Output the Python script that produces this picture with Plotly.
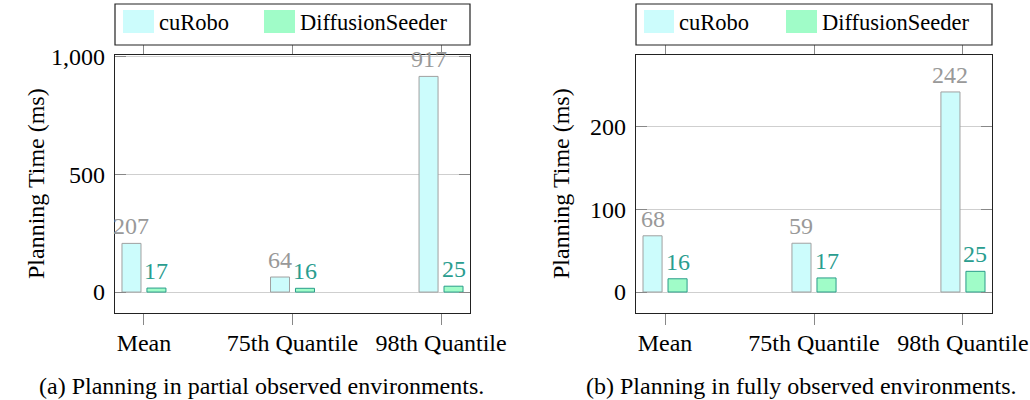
import plotly.graph_objects as go

# ---- data ----
categories = ["Mean", "75th Quantile", "98th Quantile"]
series_names = ["cuRobo", "DiffusionSeeder"]
partial_curobo = [207, 64, 917]
partial_diffusion = [17, 16, 25]
full_curobo = [68, 59, 242]
full_diffusion = [16, 17, 25]
ytick_vals_a = [0, 500, 1000]
ytick_text_a = ["0", "500", "1,000"]
ytick_vals_b = [0, 100, 200]
ytick_text_b = ["0", "100", "200"]
captions = ["(a) Planning in partial observed environments.",
            "(b) Planning in fully observed environments."]
y_title = "Planning Time (ms)"

# ---- style ----
W, H = 1030, 400
FONT = "Liberation Serif"
FS = 24
FS_NUM = 24
FS_LEG = 22.5
FS_CAP = 24
C_FILL = ["#ccfcfc", "#a0fcc8"]
C_LINE = ["#a0a0a0", "#2a9d8a"]
C_TEXT = ["#999999", "#2a9d8f"]
BAR_W = 0.128
BAR_C = [-0.084, 0.084]

def px(x):
    return x / W

def py(y):
    return 1 - y / H

panels = [
    dict(x0=115, x1=470, data=[partial_curobo, partial_diffusion],
         yr=[-89, 1008], tv=ytick_vals_a, tt=ytick_text_a,
         ytitle_x=21, cap_x=261, sw=[(123, 154), (264, 295)]),
    dict(x0=636, x1=992, data=[full_curobo, full_diffusion],
         yr=[-25.4, 286.7], tv=ytick_vals_b, tt=ytick_text_b,
         ytitle_x=561, cap_x=801, sw=[(644, 674), (786, 817)]),
]
PT, PB = 55, 313

fig = go.Figure()
annotations = []
shapes = []
xi = list(range(len(categories)))

for p_i, p in enumerate(panels):
    xa = "x" if p_i == 0 else "x2"
    ya = "y" if p_i == 0 else "y2"
    for s_i, vals in enumerate(p["data"]):
        fig.add_trace(go.Bar(
            x=xi, y=vals, width=BAR_W, offset=BAR_C[s_i] - BAR_W / 2,
            marker=dict(color=C_FILL[s_i], line=dict(color=C_LINE[s_i], width=1)),
            xaxis=xa, yaxis=ya, showlegend=False, name=series_names[s_i],
            hoverinfo="skip"))
        for c, v in zip(xi, vals):
            annotations.append(dict(
                x=c + BAR_C[s_i], y=v, xref=xa, yref=ya, text=str(v),
                showarrow=False, yanchor="bottom", xanchor="center", yshift=2,
                font=dict(family=FONT, size=FS_NUM, color=C_TEXT[s_i])))
    # y title
    annotations.append(dict(
        x=px(p["ytitle_x"]), y=py((PT + PB) / 2), xref="paper", yref="paper",
        text=y_title, textangle=-90, showarrow=False,
        font=dict(family=FONT, size=FS, color="black")))
    # caption
    annotations.append(dict(
        x=px(p["cap_x"]), y=py(386), xref="paper", yref="paper",
        text=captions[p_i], showarrow=False, xanchor="center", yanchor="middle",
        font=dict(family=FONT, size=FS_CAP, color="black")))
    # legend box
    shapes.append(dict(type="rect", xref="paper", yref="paper",
                       x0=px(p["x0"]), x1=px(p["x1"]), y0=py(45), y1=py(4),
                       line=dict(color="#222222", width=1.2), fillcolor="white",
                       layer="above"))
    for s_i, (a, b) in enumerate(p["sw"]):
        shapes.append(dict(type="rect", xref="paper", yref="paper",
                           x0=px(a), x1=px(b), y0=py(33), y1=py(10),
                           line=dict(width=0), fillcolor=C_FILL[s_i], layer="above"))
        annotations.append(dict(
            x=px(b + 3), y=py(22), xref="paper", yref="paper",
            text=series_names[s_i], showarrow=False, xanchor="left", yanchor="middle",
            font=dict(family=FONT, size=FS_LEG, color="black")))

    xaxis = dict(domain=[px(p["x0"]), px(p["x1"])], range=[-0.195, 2.195],
                 tickvals=xi, ticktext=categories, ticks="outside", ticklen=11,
                 tickcolor="#888888", mirror="allticks", showline=True,
                 linecolor="#222222", linewidth=1.2, showgrid=False, zeroline=False,
                 anchor=ya, tickfont=dict(family=FONT, size=FS, color="black"),
                 ticklabelstandoff=-3, automargin=False, fixedrange=True)
    yaxis = dict(domain=[py(PB), py(PT)], range=p["yr"], tickvals=p["tv"],
                 ticktext=p["tt"], ticks="inside", ticklen=11, tickcolor="#888888",
                 mirror="allticks", showline=True, linecolor="#222222", linewidth=1.2,
                 showgrid=True, gridcolor="#cfcfcf", gridwidth=1, zeroline=False,
                 anchor=xa, tickfont=dict(family=FONT, size=FS_NUM, color="black"),
                 ticklabelstandoff=4, automargin=False, fixedrange=True)
    if p_i == 0:
        fig.update_layout(xaxis=xaxis, yaxis=yaxis)
    else:
        fig.update_layout(xaxis2=xaxis, yaxis2=yaxis)

fig.update_layout(
    width=W, height=H, margin=dict(l=0, r=0, t=0, b=0, autoexpand=False),
    paper_bgcolor="white", plot_bgcolor="white",
    barmode="overlay", annotations=annotations, shapes=shapes,
    font=dict(family=FONT, size=FS, color="black"),
)
fig.write_html("out.html", config={"displayModeBar": False},
               post_script="document.body.style.margin='0';document.body.style.overflow='hidden';")
